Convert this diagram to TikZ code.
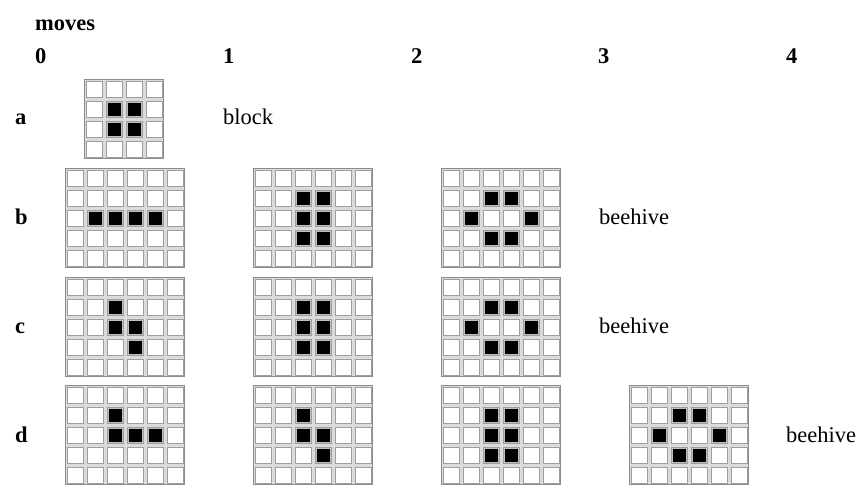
\documentclass[tikz,border=0pt]{standalone}
\usepackage{fontspec}
\setmainfont{Liberation Serif}
\tikzset{
  lbl/.style={inner sep=0pt, anchor=base west, font=\fontsize{22.5}{27}\selectfont},
  blbl/.style={lbl, font=\fontsize{22.5}{27}\selectfont\bfseries},
  cellbox/.style={draw=black!38, line width=1.1pt, fill=white},
  framebox/.style={draw=black!45, line width=1.4pt, fill=black!14},
  livebox/.style={fill=black, draw=black!25, line width=0.5pt}
}
\newcommand\lifegrid[5]{%
  \begin{scope}[shift={(#1,#2)}]
    \draw[framebox] (0.7,0.7) rectangle ({#3*20-0.7},{#4*20-0.7});
    \foreach \ci in {1,...,#3}{
      \foreach \rj in {1,...,#4}{
        \draw[cellbox] ({(\ci-1)*20+2.4},{(\rj-1)*20+2.4}) rectangle ({\ci*20-1.2},{\rj*20-1.2});
      }
    }
    \foreach \lx/\ly in {#5}{
      \draw[livebox] ({\lx*20+3.6},{\ly*20+3.6}) rectangle ({\lx*20+17.6},{\ly*20+17.6});
    }
  \end{scope}}
\begin{document}
\begin{tikzpicture}[x=1pt,y=-1pt]
\useasboundingbox[fill=white] (0,0) rectangle (863,485);
% headings
\node[blbl] (moves) at (35,30) {moves};
\node[blbl] (m0) at (35,63) {0};
\node[blbl] (m1) at (223,63) {1};
\node[blbl] (m2) at (411,63) {2};
\node[blbl] (m3) at (598,63) {3};
\node[blbl] (m4) at (786,63) {4};
% row labels
\node[blbl] (ra) at (15,124) {a};
\node[blbl] (rb) at (15,224) {b};
\node[blbl] (rc) at (15,333) {c};
\node[blbl] (rd) at (15,442) {d};
% result labels
\node[lbl] (ta) at (223,124) {block};
\node[lbl] (tb) at (599,224) {beehive};
\node[lbl] (tc) at (599,333) {beehive};
\node[lbl] (td) at (786,442) {beehive};
% row a
\lifegrid{84}{79}{4}{4}{1/1,2/1,1/2,2/2}
% row b
\lifegrid{65}{168}{6}{5}{1/2,2/2,3/2,4/2}
\lifegrid{253}{168}{6}{5}{2/1,3/1,2/2,3/2,2/3,3/3}
\lifegrid{441}{168}{6}{5}{2/1,3/1,1/2,4/2,2/3,3/3}
% row c
\lifegrid{65}{277}{6}{5}{2/1,2/2,3/2,3/3}
\lifegrid{253}{277}{6}{5}{2/1,3/1,2/2,3/2,2/3,3/3}
\lifegrid{441}{277}{6}{5}{2/1,3/1,1/2,4/2,2/3,3/3}
% row d
\lifegrid{65}{385}{6}{5}{2/1,2/2,3/2,4/2}
\lifegrid{253}{385}{6}{5}{2/1,2/2,3/2,3/3}
\lifegrid{441}{385}{6}{5}{2/1,3/1,2/2,3/2,2/3,3/3}
\lifegrid{629}{385}{6}{5}{2/1,3/1,1/2,4/2,2/3,3/3}
\end{tikzpicture}
\end{document}
